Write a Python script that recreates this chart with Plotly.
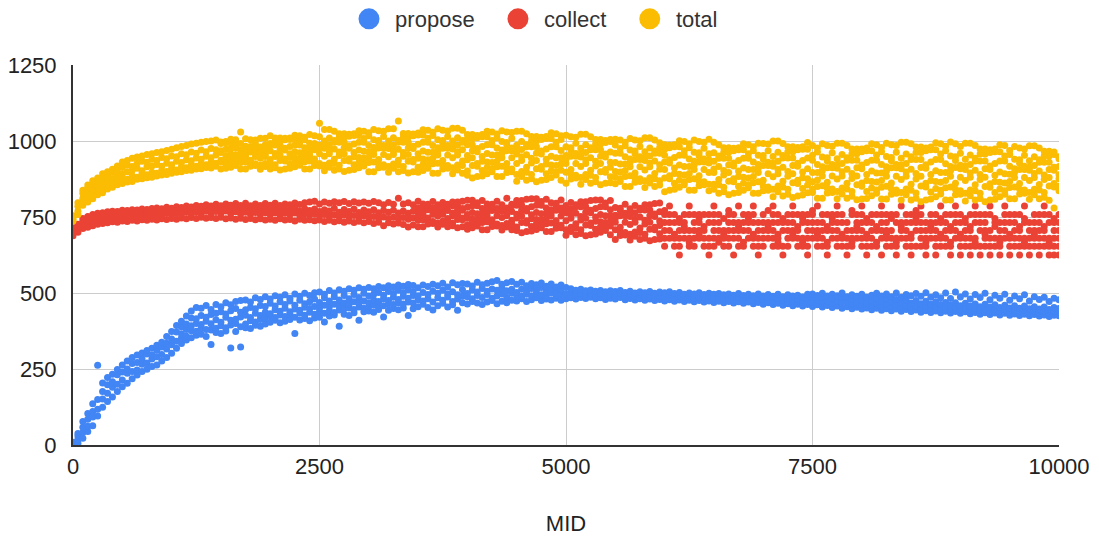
import plotly.graph_objects as go

# MID positions (x) — samples every 50
mid = list(range(0, 10001, 50))

series_names = ["propose", "collect", "total"]
series_colors = ["#4285F4", "#EA4335", "#FBBC04"]
x_ticks = [0, 2500, 5000, 7500, 10000]
y_ticks = [0, 250, 500, 750, 1000, 1250]

# values, several samples per MID position
propose = [
    [0,4,9],[6,18,30,38],[22,41,58,77],[44,62,85,104],[63,92,110,136],[95,118,150,262],[124,151,176,204],[143,170,198,222],[158,190,208,233],[176,200,231,248],
    [192,214,240,263],[203,236,250,276],[218,242,268,288],[230,247,271,296],[242,266,284,303],[249,270,299,311],[258,283,296,318],[263,290,312,328],[276,298,322,338],[288,316,335,357],
    [302,330,349,373],[318,341,372,393],[334,352,366,389,407],[345,358,380,398,424],[353,376,392,418,441],[361,374,400,415,452],[364,385,396,426,450],[357,380,407,420,459],[331,378,399,429,446],[370,384,412,433,462],
    [367,392,404,438,455],[375,386,420,431,468],[319,395,410,442,461],[373,400,414,449,472],[322,389,421,437,475],[386,398,427,445,477],[383,409,419,452,470],[394,405,433,448,484],[391,413,426,459,479],[398,418,437,456,488],
    [404,425,432,466,480],[410,419,445,457,491],[402,428,440,471,486],[407,423,450,462,494],[413,431,438,474,483],[367,420,447,460,497],[411,434,443,476,489],[416,427,453,465,499],[409,437,449,471,492],[418,430,456,480,501],
    [420,439,451,469,503],[405,433,460,484,496],[424,441,455,474,508],[428,436,463,488,500],[391,444,458,477,511],[430,448,467,492,506],[426,451,462,481,514],[435,446,471,495,509],[410,454,466,485,517],[438,450,474,499,512],
    [441,456,468,490,518],[437,460,477,496,514],[446,453,472,502,521],[421,458,481,493,517],[443,465,475,505,524],[449,462,486,498,520],[445,468,479,509,526],[451,464,489,501,522],[426,470,483,511,528],[448,467,492,504,525],
    [455,478,491,517],[463,474,502,526],[452,481,495,521],[444,470,506,529],[458,484,499,524],[466,476,509,532],[454,487,497,520],[461,472,504,534],[443,480,494,527],[468,489,511,531],
    [464,488,498,530],[472,481,510,523],[467,492,503,535],[462,485,515,527],[470,495,506,532],[475,483,513,537],[465,490,509,541],[473,497,517,529],[468,486,507,534],[476,499,512,538],
    [474,493,502,529],[481,489,512,535],[472,496,506,524],[478,491,515,531],[484,498,509,527],[475,494,518,533],[480,488,504,522],[477,500,513,530],[483,492,508,520],[476,497,511,526],
    [481,497,518],[484,503,514],[480,494,509],[485,499,512],[482,491,507],[486,501,510],[481,495,506],[484,498,508],[479,490,504],[483,496,507],
    [480,493,505],[485,499,508],[478,489,502],[482,495,506],[477,491,500],[481,497,504],[476,488,501],[480,494,505],[475,486,499],[479,492,503],
    [474,489,501],[478,495,504],[473,484,498],[477,490,502],[472,487,496],[476,493,500],[471,482,497],[475,488,501],[470,485,495],[474,491,499],
    [469,480,496],[473,487,498],[468,483,494],[472,489,497],[467,478,493],[471,486,498],[466,481,492],[470,487,496],[465,476,491],[469,484,497],
    [463,479,490],[468,485,495],[462,474,489],[466,482,496],[460,477,488],[465,483,494],[458,472,490],[463,480,493],[457,475,487],[462,481,496],
    [456,470,488,497],[461,478,492],[454,473,486,499],[459,476,490],[452,467,483,496],[457,474,491],[450,470,485,500],[455,472,488],[448,465,481,494],[453,470,489],
    [447,462,478,496],[451,468,486],[445,459,475,493],[450,466,483,499],[443,457,472,490],[448,464,481,497],[442,455,470,488],[447,462,479,500],[440,453,468,486],[446,460,477,495],
    [439,452,467,491],[444,458,475,498],[437,450,465,489],[442,456,473,501],[436,449,463,486],[441,455,471,494],[435,447,462,484],[440,453,469,500],[434,446,460,482],[439,452,468,503],
    [433,445,458,487],[438,450,466,497],[432,443,457,480],[436,449,464,495],[430,442,455,485],[435,448,463,499],[429,440,454,478],[434,446,461,493],[428,439,452,483],[433,445,460,496],
    [427,438,451,476],[431,444,458,490],[426,436,450,481],[430,443,457,494],[425,435,448,474],[429,441,455,488],[424,434,447,479],[428,440,454,486],[423,433,446,472],[427,439,452,483],
    [425,436,449,478],
]

collect = [
    [688,698,709,715],[700,713,726],[712,722,736,745],[716,733,741,752],[721,737,748,758],[726,744,753,762],[729,739,755,764],[731,748,760,767],[734,745,757,769],[733,750,762,768],
    [737,748,760,772],[735,753,766,771],[739,750,761,774],[737,756,768,773],[741,752,764,776],[739,758,770,775],[743,754,766,778],[740,760,771,780],[744,755,768,777],[742,762,773,782],
    [745,757,770,779],[743,764,775,784],[747,759,772,781],[744,766,778,786],[748,760,774,783],[745,767,779,788],[749,761,775,785],[746,769,780,790],[748,762,776,786],[745,768,781,792],
    [749,763,777,787],[744,770,782,793],[747,761,775,789],[743,767,780,794],[746,760,774,788],[742,766,779,795],[745,759,773,787],[741,765,778,793],[744,758,772,788],[740,764,777,794],
    [743,757,771,789],[739,763,776,795],[744,756,770,788],[740,762,775,793],[742,758,772,790],[737,763,778,796],[743,755,769,791],[739,761,777,797],[741,757,771,799],[738,760,776,802],
    [740,754,768,793],[735,758,774,799],[739,752,770,795],[734,757,779,800],[738,751,766,797],[733,756,775,801],[737,750,768,794],[732,755,776,800],[736,749,765,796],[731,754,773,799],
    [735,748,767,795],[729,752,774,801],[733,746,764,797],[721,750,771,790],[731,745,766,798],[727,749,772,792],[730,744,763,812],[725,748,770,793],[717,743,762,797],[724,747,769,790],
    [718,739,751,765,780,802],[718,741,759,768,775,793],[727,736,747,774,786,792],[729,735,759,774,780,801],[717,730,753,772,778,790],[726,736,759,766,781,798],[718,735,745,771,787,792],[721,730,754,763,787,799],[715,742,759,774,787,799],[718,741,747,772,778,802],
    [710,724,746,758,782,805],[715,731,744,765,787,805],[720,727,742,761,787,797],[708,732,746,761,778,804],[708,734,754,765,773,793],[719,729,741,771,785,792],[720,727,754,771,778,802],[707,722,748,770,776,790],[717,729,754,763,780,812],[708,727,739,768,787,792],
    [706,717,747,759,789,804],[698,732,753,772,789,804],[702,730,738,770,778,808],[704,719,744,757,784,810],[709,727,742,765,789,810],[715,723,740,761,789,801],[702,728,744,761,780,808],[702,730,753,765,774,797],[713,725,738,772,787,795],[715,723,753,772,780,806],
    [690,708,738,764,772,788],[702,716,746,756,776,798],[692,714,728,762,784,790],[696,708,740,752,784,800],[688,724,746,766,784,800],[692,722,730,764,772,804],[694,710,736,750,778,806],[700,718,734,758,784,806],[706,714,732,754,784,796],[692,720,736,754,774,804],
    [676,708,733,746,756,781],[689,701,716,754,771,779],[691,699,733,754,762,792],[674,693,725,752,760,777],[687,701,733,743,764,788],[676,699,714,750,773,779],[680,693,727,739,773,790],[672,710,733,754,773,790],[676,708,716,752,760,794],[678,695,722,737,767,796],
    [654,680,706,732,758,771],[680,706,732,758,786],[654,680,693,732,758],[625,654,680,706,732,745],[680,706,719,732,758],[654,667,680,706,758,786],[654,680,706,732,758],[680,693,706,732,745,758],[654,680,706,719,758],[625,654,680,732,758],
    [654,680,706,732,758,786],[667,680,706,732,758],[654,680,693,706,745],[654,680,706,732,758,771],[625,680,706,732,758],[654,680,706,719,732,786],[654,667,706,732,758],[680,706,732,745,758],[654,680,693,732,758,786],[625,654,680,706,732],
    [654,680,706,732,758],[680,706,719,732,771],[654,680,706,732,758,786],[654,667,680,693,732,758],[625,654,706,732,745],[654,680,706,732,758],[680,693,706,732,758,786],[654,680,706,719,758],[654,667,680,732,745,758],[625,654,680,706,732,758],
    [680,706,732,758,771],[654,680,693,706,732,786],[654,680,706,732,758],[625,654,667,706,719,758],[680,706,732,745,758],[654,680,706,732,758,786],[654,680,693,732,758],[625,654,680,706,732],[654,667,680,706,758,771],[680,706,719,732,758],
    [654,680,706,732,758,786],[625,654,680,693,732,745],[654,680,706,732,758],[654,667,706,719,758],[625,680,706,732,758,786],[654,680,693,706,732,758],[654,680,706,745,758],[625,654,667,680,732,758],[680,706,719,732,786],[654,680,706,732,758],
    [625,654,680,693,732,758],[654,706,732,745,758,771],[654,680,706,732,758,786],[625,654,667,680,706,732],[680,706,719,732,758],[625,654,680,706,732,758],[654,680,693,732,745,786],[654,680,706,732,758],[625,654,667,706,719,758],[680,706,732,758,786],
    [625,654,680,693,732,758],[654,680,706,732,745],[625,654,680,706,719,758],[654,667,680,732,758,786],[625,654,706,732,758],[654,680,693,706,732,758],[625,654,680,706,758,786],[654,680,719,732,745],[625,654,667,680,706,732],[680,706,732,758,786],
    [625,654,680,693,732,758],[654,680,706,732,758],[625,654,680,706,719,758],[654,667,680,732,745,786],[625,654,680,706,732],[654,680,693,706,732,758],[625,654,680,706,732,758],[654,680,706,719,758,786],[625,654,667,680,732,758],[625,654,680,706,732,745],
    [625,654,680,706,732,758],
]

total = [
    [737,743,749,754],[758,769,785,797],[789,803,812,828,838],[799,818,827,845,855],[810,822,840,857,869],[823,836,850,868,878],[830,849,862,874,892],[842,853,872,887,899],[848,864,876,896,907],[856,868,884,900,918],
    [860,878,891,913,931],[865,874,899,921,936],[867,886,904,916,943],[874,881,910,927,947],[876,893,902,933,951],[879,889,915,930,956],[881,897,918,940,958],[885,894,923,936,962],[888,903,917,946,965],[890,900,927,942,969],
    [894,910,922,951,973],[897,905,933,948,978],[899,916,929,958,982],[903,912,938,955,985],[904,921,935,964,990],[908,917,944,960,993],[909,926,940,970,996],[913,922,950,965,998],[911,930,945,975,1000],[917,927,954,971,1003],
    [908,931,937,962,968,992,997],[910,922,941,952,973,994,998],[914,928,940,958,977,994,1006],[919,925,938,955,977,986,1004],[908,929,941,955,970,992,1030],[908,931,949,958,965,983,1007],[917,926,937,964,976,982,1004],[919,925,949,964,970,991,1003],[907,920,943,962,968,980,1009],[916,926,949,956,971,988,1009],
    [908,927,939,968,987,992,1017],[912,922,949,959,987,1000,1010],[905,936,954,971,987,1000,1010],[908,934,941,970,976,1004,1009],[910,924,946,958,982,1005,1010],[915,931,944,965,987,1005,1019],[920,927,942,961,987,997,1017],[908,932,946,961,978,1004,1012],[908,934,954,965,973,993,1021],[919,929,941,971,985,992,1017],
    [918,926,958,978,986,1014,1058],[902,920,950,976,984,1000,1038],[914,928,958,968,988,1010,1038],[904,926,940,974,996,1002,1032],[908,920,952,964,996,1012,1024],[900,936,958,978,996,1012,1024],[904,934,942,976,984,1016,1022],[906,922,948,962,990,1018,1024],[912,930,946,970,996,1018,1034],[918,926,944,966,996,1008,1032],
    [899,929,945,964,985,1017,1027],[899,931,956,969,979,1004,1038],[912,924,939,977,994,1002,1034],[914,922,956,977,985,1015,1032],[897,916,948,975,983,1000,1040],[910,924,956,966,987,1011,1040],[899,922,937,973,996,1002,1066],[903,916,950,962,996,1013,1025],[895,933,956,977,996,1013,1025],[899,931,939,975,983,1017,1023],
    [897,914,943,958,989,1020,1026],[903,923,941,967,996,1020,1037],[910,919,938,963,996,1009,1035],[894,925,943,963,985,1018,1029],[894,927,954,967,978,1004,1040],[908,921,936,976,993,1002,1035],[910,919,954,976,985,1015,1033],[892,912,945,974,982,1000,1042],[905,921,954,965,987,1011,1042],[894,919,934,971,996,1002,1035],
    [887,901,938,952,988,1007,1021],[878,919,945,968,988,1007,1021],[883,917,926,965,975,1011,1018],[885,903,933,949,982,1014,1021],[892,913,931,959,988,1014,1032],[899,908,929,954,988,1002,1030],[883,915,933,954,977,1011,1023],[883,917,945,959,970,998,1034],[896,910,926,968,986,995,1030],[899,908,945,968,977,1009,1028],
    [868,890,926,957,967,986,1032],[883,900,936,948,972,998,1032],[871,897,914,955,981,988,1024],[876,890,928,943,981,1000,1015],[866,909,936,960,981,1000,1015],[871,907,916,957,967,1005,1012],[873,892,924,940,974,1008,1015],[880,902,921,950,981,1008,1027],[888,897,919,945,981,996,1024],[871,904,924,945,969,1005,1017],
    [861,897,926,940,952,981,1019],[875,890,906,950,969,978,1014],[878,887,926,950,959,993,1012],[858,880,916,947,957,976,1022],[873,890,926,938,962,988,1022],[861,887,904,945,971,978,1014],[866,880,918,933,971,990,1005],[856,899,926,950,971,990,1005],[861,897,906,947,957,995,1002],[863,882,914,930,964,998,1005],
    [859,881,900,929,960,987,1006],[867,876,898,924,960,975,1003],[850,883,903,924,948,984,996],[850,886,915,929,941,970,1008],[864,879,895,939,958,967,1003],[867,876,915,939,948,982,1001],[847,869,905,936,946,965,1011],[862,879,915,927,951,977,1011],[850,876,893,934,960,967,1003],[855,869,907,922,960,979,994],
    [833,878,906,931,953,973,988],[838,876,886,928,938,978,986],[841,861,893,911,946,981,988],[848,871,891,921,953,981,1001],[856,866,888,916,953,968,998],[838,873,893,916,941,978,991],[838,876,906,921,933,963,1003],[853,868,886,931,951,961,998],[856,866,906,931,941,976,996],[836,858,896,928,938,958,1006],
    [841,858,896,908,933,961,996],[828,856,873,916,943,951,988],[833,848,888,903,943,963,978],[823,868,896,921,943,963,978],[828,866,876,918,928,968,976],[831,851,883,901,936,971,978],[838,861,881,911,943,971,991],[846,856,878,906,943,958,988],[828,863,883,906,931,968,981],[828,866,896,911,923,953,993],
    [836,852,871,919,941,952,992],[838,849,892,919,930,968,990],[817,841,882,917,927,949,1000],[833,852,892,906,933,963,1000],[819,849,868,914,944,952,992],[825,841,884,900,944,965,981],[814,863,892,919,944,965,981],[819,860,871,917,927,971,979],[822,844,879,898,936,973,981],[830,855,876,909,944,973,995],
    [831,842,866,896,937,953,985],[812,850,872,896,923,964,977],[812,853,885,902,915,947,991],[829,845,864,912,934,945,985],[831,842,885,912,923,961,983],[810,834,875,910,920,942,993],[826,845,885,899,926,956,993],[812,842,861,907,937,945,985],[818,834,877,893,937,958,974],[807,856,885,912,937,958,974],
    [809,851,862,909,921,965,974],[811,834,870,890,929,968,977],[820,845,867,901,937,968,991],[828,839,865,895,937,954,988],[809,848,870,895,923,965,979],[809,851,884,901,915,949,993],[825,842,862,912,935,946,988],[828,839,884,912,923,963,985],[806,831,873,909,921,943,996],[823,842,884,898,926,957,996],
    [806,838,858,907,939,948,991],[812,829,875,893,939,962,980],[800,852,884,913,939,962,980],[806,849,861,910,922,968,977],[809,832,870,890,931,971,980],[817,844,867,902,939,971,994],[826,838,864,896,939,957,991],[806,846,870,896,925,968,983],[806,849,884,902,916,951,997],[823,841,861,913,936,948,991],
    [825,836,881,909,920,960,982],[803,828,870,906,918,940,993],[820,839,881,895,923,954,993],[806,836,856,904,934,943,985],[811,828,873,890,934,957,974],[800,850,881,909,934,957,974],[806,848,859,906,918,962,971],[808,831,867,887,926,965,974],[817,842,864,898,934,965,988],[825,836,862,892,934,951,985],
    [810,847,867,891,917,956,969],[810,849,880,896,909,940,982],[826,841,860,906,927,938,977],[828,839,880,906,917,953,974],[808,831,870,904,914,935,984],[823,841,880,893,919,948,984],[810,839,857,901,930,938,977],[815,831,873,888,930,951,966],[805,852,880,906,930,951,966],[780,849,860,904,914,956,964],
    [836,851,876,889,916,942,948],
]

assert len(propose) == len(mid) and len(collect) == len(mid) and len(total) == len(mid)


def flatten(groups):
    xs, ys = [], []
    for m, g in zip(mid, groups):
        for v in g:
            xs.append(m)
            ys.append(v)
    return xs, ys


fig = go.Figure()
for name, groups, color in zip(series_names, [propose, collect, total], series_colors):
    xs, ys = flatten(groups)
    fig.add_trace(go.Scatter(
        x=xs, y=ys, mode="markers", name=name, legendgroup=name, showlegend=False,
        marker=dict(size=7, color=color, line=dict(width=0)),
    ))

# legend entries (larger symbols, like the reference legend)
for name, color in zip(series_names, series_colors):
    fig.add_trace(go.Scatter(
        x=[None], y=[None], mode="markers", name="\u00a0" + name + "\u00a0" * 3, legendgroup=name,
        marker=dict(size=16, color=color, line=dict(width=5, color=color)),
    ))

# the page body has an 8px margin, so the figure is 8px smaller each way
W, H = 1091, 529
font_family = "Liberation Sans, Arial, sans-serif"
fig.update_layout(
    width=W, height=H,
    margin=dict(l=65, r=40, t=57, b=92, autoexpand=False),
    paper_bgcolor="white", plot_bgcolor="white",
    font=dict(family=font_family, size=22, color="#222222"),
    showlegend=True,
    legend=dict(
        orientation="h", xref="container", yref="container",
        x=341 / W, y=1 - 11 / H, xanchor="left", yanchor="middle",
        font=dict(family=font_family, size=22, color="#333333"),
        bgcolor="rgba(0,0,0,0)",
    ),
    xaxis=dict(
        range=[0, 10000], tickvals=x_ticks, ticktext=[str(v) for v in x_ticks],
        showgrid=True, gridcolor="#cccccc", gridwidth=1,
        showline=True, linecolor="#333333", linewidth=2,
        zeroline=False, ticks="", ticklabelstandoff=1, automargin=False,
        title=dict(text="MID", font=dict(family=font_family, size=22, color="#222222"), standoff=37),
        fixedrange=True,
    ),
    yaxis=dict(
        range=[0, 1250], tickvals=y_ticks, ticktext=[str(v) for v in y_ticks],
        showgrid=True, gridcolor="#cccccc", gridwidth=1,
        showline=True, linecolor="#333333", linewidth=2,
        zeroline=False, ticks="", ticklabelstandoff=10, automargin=False,
        fixedrange=True,
    ),
)

fig.write_html("out.html")
